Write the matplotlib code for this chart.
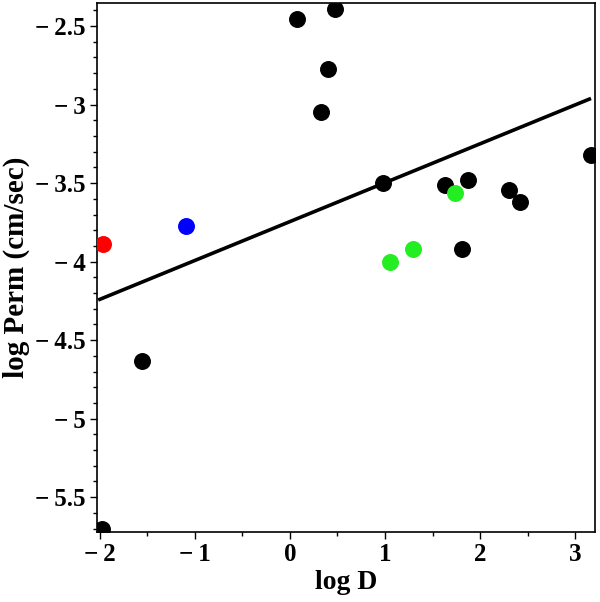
import matplotlib
matplotlib.use("Agg")
import matplotlib.pyplot as plt
from matplotlib.ticker import MultipleLocator, FuncFormatter

# data
black_x = [0.07, 0.47, 0.40, 0.33, 0.98, 1.63, 1.87, 2.31, 2.42, 3.17, 1.81, -1.56, -1.98]
black_y = [-2.455, -2.39, -2.775, -3.045, -3.50, -3.51, -3.48, -3.545, -3.62, -3.32, -3.92, -4.63, -5.70]
green_x = [1.74, 1.29, 1.05]
green_y = [-3.565, -3.92, -4.00]
red_x = [-1.97]
red_y = [-3.89]
blue_x = [-1.09]
blue_y = [-3.77]

# fitted line
fit_x = [-2.0, 3.15]
fit_slope = 0.2476
fit_icept = -3.745


def fmt(v, pos):
    s = '%g' % abs(v)
    if v < -1e-9:
        return '\u2212\u2009' + s
    return s


def main():
    plt.rcParams['font.family'] = ['Liberation Serif', 'DejaVu Serif']
    plt.rcParams['font.weight'] = 'bold'

    fig = plt.figure(figsize=(6.0, 6.02), dpi=100)
    ax = fig.add_axes([0.1617, 0.1168, 0.83, 0.8782])

    fy = [fit_slope * x + fit_icept for x in fit_x]
    ax.plot(fit_x, fy, color='black', lw=2.6, zorder=2)

    ms = 125
    ax.scatter(black_x, black_y, s=ms, color='black', zorder=3)
    ax.scatter(green_x, green_y, s=ms, color='#22ee22', zorder=3)
    ax.scatter(red_x, red_y, s=ms, color='#ff0000', zorder=3)
    ax.scatter(blue_x, blue_y, s=ms, color='#0000ff', zorder=3)

    ax.set_xlim(-2.03, 3.21)
    ax.set_ylim(-5.72, -2.353)

    ax.xaxis.set_major_locator(MultipleLocator(1))
    ax.xaxis.set_minor_locator(MultipleLocator(0.5))
    ax.yaxis.set_major_locator(MultipleLocator(0.5))
    ax.yaxis.set_minor_locator(MultipleLocator(0.1))
    ax.xaxis.set_major_formatter(FuncFormatter(fmt))
    ax.yaxis.set_major_formatter(FuncFormatter(fmt))
    ax.tick_params(which='both', direction='out', top=False, right=False,
                   labelsize=18, width=1)
    ax.tick_params(which='major', length=5, pad=3)
    ax.tick_params(which='minor', length=3)
    for t in ax.get_xticklabels() + ax.get_yticklabels():
        t.set_fontweight('bold')
    for sp in ax.spines.values():
        sp.set_linewidth(1.2)

    ax.set_xlabel('log D', fontsize=20, fontweight='bold', labelpad=3)
    ax.set_ylabel('log Perm (cm/sec)', fontsize=21, fontweight='bold', labelpad=4)

    fig.savefig('out.png', dpi=100)


if __name__ == "__main__":
    main()
